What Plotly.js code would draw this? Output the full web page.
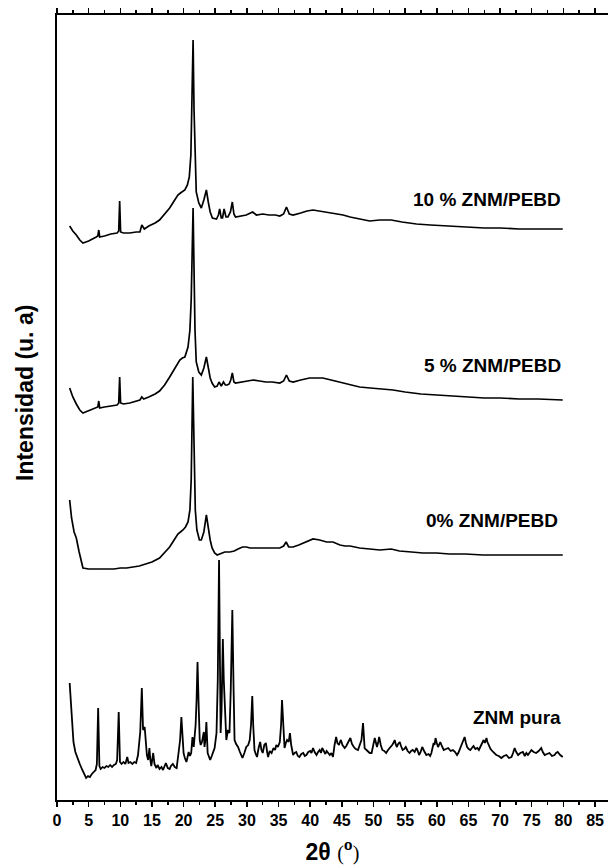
<!DOCTYPE html>
<html>
<head>
<meta charset="utf-8">
<script src="https://cdn.plot.ly/plotly-3.0.1.min.js"></script>
<style>html,body{margin:0;padding:0;background:#fff;}#chart{width:608px;height:866px;}</style>
</head>
<body>
<div id="chart"></div>
<script>
// [2θ (degrees), intensity (arbitrary units, stacked)]
const pura = [[2.0,117],[2.2,95],[2.4,72],[2.6,58],[2.9,48],[3.3,40],[3.6,36],[4.0,30],[4.3,25],[4.6,22],[4.9,24],[5.2,23],[5.5,26],[5.8,28],[6.1,30],[6.3,36],[6.5,92],[6.7,34],[6.9,31],[7.2,33],[7.5,32],[7.8,34],[8.1,33],[8.4,35],[8.7,33],[9.0,35],[9.3,36],[9.5,40],[9.75,88],[9.95,38],[10.2,36],[10.5,38],[10.8,36],[11.1,43],[11.3,37],[11.6,38],[11.9,36],[12.2,38],[12.5,37],[12.8,45],[12.95,55],[13.15,68],[13.4,112],[13.6,70],[13.85,73],[14.05,50],[14.2,45],[14.4,40],[14.6,52],[14.75,40],[14.9,34],[15.2,47],[15.4,36],[15.7,32],[15.9,35],[16.2,31],[16.5,33],[16.75,30],[17.0,33],[17.2,37],[17.5,32],[17.8,31],[18.0,34],[18.3,36],[18.6,33],[18.9,32],[19.2,47],[19.45,60],[19.65,83],[19.85,60],[20.0,47],[20.2,42],[20.45,38],[20.8,48],[21.0,44],[21.2,47],[21.4,63],[21.6,53],[21.9,75],[22.05,100],[22.2,138],[22.4,90],[22.55,60],[22.7,55],[22.9,58],[23.2,68],[23.3,53],[23.45,60],[23.6,78],[23.8,47],[24.0,43],[24.2,40],[24.45,44],[24.65,47],[24.9,52],[25.2,67],[25.4,120],[25.6,240],[25.75,120],[25.85,67],[26.0,90],[26.2,161],[26.35,120],[26.5,100],[26.75,60],[27.0,70],[27.25,67],[27.45,110],[27.7,190],[27.9,110],[28.05,60],[28.3,56],[28.6,53],[28.9,48],[29.1,45],[29.3,42],[29.6,47],[29.9,53],[30.2,55],[30.45,60],[30.65,75],[30.85,104],[31.0,75],[31.2,50],[31.4,46],[31.6,43],[31.85,52],[32.1,58],[32.3,50],[32.5,47],[32.75,55],[33.0,57],[33.2,48],[33.35,43],[33.6,49],[33.9,47],[34.2,52],[34.45,50],[34.65,55],[34.9,53],[35.2,58],[35.4,75],[35.55,100],[35.75,70],[35.95,52],[36.15,57],[36.35,60],[36.6,58],[36.8,67],[37.0,55],[37.3,45],[37.55,47],[37.8,48],[38.05,44],[38.3,43],[38.6,46],[38.9,47],[39.15,44],[39.4,45],[39.7,48],[40.0,49],[40.2,47],[40.45,52],[40.7,48],[41.0,45],[41.25,48],[41.5,50],[41.7,47],[41.9,52],[42.15,49],[42.4,46],[42.6,49],[42.8,47],[43.1,45],[43.35,47],[43.6,43],[43.85,55],[44.1,63],[44.3,57],[44.55,55],[44.7,58],[44.85,60],[45.1,55],[45.45,52],[45.7,54],[45.9,56],[46.1,59],[46.35,62],[46.6,56],[46.9,53],[47.2,51],[47.55,50],[47.75,53],[47.9,57],[48.1,60],[48.35,77],[48.5,60],[48.6,52],[48.9,50],[49.15,48],[49.4,47],[49.7,47],[49.95,55],[50.2,62],[50.4,57],[50.55,53],[50.75,58],[50.9,63],[51.15,55],[51.4,50],[51.7,49],[52.0,47],[52.3,50],[52.6,52],[52.95,55],[53.15,57],[53.35,60],[53.55,55],[53.7,53],[53.9,56],[54.15,58],[54.35,54],[54.6,50],[54.85,51],[55.1,53],[55.4,49],[55.7,47],[55.95,49],[56.2,50],[56.5,48],[56.8,52],[57.0,49],[57.2,45],[57.45,48],[57.7,53],[58.0,49],[58.35,45],[58.7,46],[58.95,44],[59.15,47],[59.35,52],[59.5,57],[59.65,55],[59.8,62],[60.0,57],[60.2,53],[60.35,55],[60.55,58],[60.8,54],[61.1,50],[61.45,51],[61.8,52],[62.2,49],[62.55,50],[62.9,48],[63.2,45],[63.4,47],[63.6,50],[63.9,55],[64.15,60],[64.4,63],[64.6,57],[64.8,53],[65.05,51],[65.3,50],[65.55,52],[65.8,54],[66.1,51],[66.4,52],[66.65,50],[66.9,53],[67.15,56],[67.4,60],[67.6,57],[67.85,62],[68.0,58],[68.2,55],[68.5,51],[68.9,48],[69.15,46],[69.4,45],[69.8,44],[70.2,42],[70.6,44],[71.0,45],[71.4,42],[71.8,43],[72.05,47],[72.3,52],[72.55,48],[72.85,45],[73.2,47],[73.6,48],[73.9,44],[74.15,47],[74.4,45],[74.7,48],[74.95,50],[75.3,48],[75.7,47],[76.1,49],[76.5,52],[76.75,48],[77.05,45],[77.4,46],[77.8,47],[78.2,44],[78.6,45],[78.85,47],[79.1,48],[79.5,45],[79.9,43]];

const pebd0 = [[2.0,300],[2.3,282],[2.7,268],[3.05,262],[3.5,248],[4.1,232],[5.0,231],[6.0,231],[7.0,231],[8.0,231],[9.0,231],[10.0,232],[11.0,232],[12.0,233],[13.0,234],[14.0,236],[15.0,238],[16.2,242],[17.0,247],[17.8,253],[18.5,260],[19.1,266],[19.5,268],[19.9,270],[20.3,273],[20.7,278],[21.0,290],[21.2,320],[21.45,423],[21.65,340],[21.85,290],[22.1,270],[22.5,260],[22.8,260],[23.2,268],[23.6,285],[23.9,270],[24.2,260],[24.5,252],[24.9,247],[25.3,245],[25.7,246],[26.5,248],[27.3,248],[28.0,249],[28.6,251],[29.3,253],[29.9,253],[30.5,252],[31.2,252],[32.0,252],[33.0,252],[34.0,252],[35.2,252],[35.8,254],[36.2,258],[36.6,253],[37.3,253],[38.2,255],[38.9,257],[39.9,260],[40.45,261],[41.5,260],[42.6,258],[43.6,258],[44.7,255],[45.5,254],[46.3,254],[47.8,252],[49.4,251],[51.0,250],[52.8,251],[54.1,249],[56.0,248],[57.8,247],[60.0,247],[62.0,246],[64.5,246],[67.3,245],[70.0,245],[72.6,245],[75.0,245],[77.5,245],[79.9,245]];

const pebd5 = [[2.0,412],[2.5,403],[3.05,396],[3.6,390],[4.1,387],[5.0,389],[6.2,392],[6.45,393],[6.6,399],[6.75,392],[7.5,393],[8.5,394],[9.5,395],[9.75,397],[9.9,423],[10.05,397],[10.5,396],[11.5,397],[12.5,399],[13.1,400],[13.4,403],[13.7,401],[14.5,403],[15.5,406],[16.2,409],[17.0,415],[17.8,423],[18.6,432],[19.4,440],[19.8,442],[20.2,443],[20.7,453],[21.0,470],[21.2,500],[21.35,540],[21.5,592],[21.65,530],[21.8,470],[22.0,438],[22.4,428],[22.8,425],[23.2,432],[23.6,443],[23.9,432],[24.2,422],[24.5,417],[24.9,413],[25.3,414],[25.6,418],[25.95,414],[26.3,418],[26.6,415],[26.9,415],[27.2,416],[27.45,420],[27.7,427],[27.95,418],[28.2,417],[29.0,418],[29.9,419],[31.0,420],[32.0,419],[33.0,418],[34.0,418],[35.2,417],[35.8,419],[36.25,425],[36.7,419],[37.3,418],[38.5,420],[39.9,422],[41.0,422],[42.0,422],[43.3,420],[44.7,418],[46.3,415],[47.8,413],[49.5,412],[51.5,411],[53.1,410],[55.0,408],[57.5,406],[60.0,405],[62.0,404],[65.0,403],[67.5,402],[70.0,402],[73.0,401],[76.0,401],[79.9,400]];

const pebd10 = [[2.0,574],[2.5,569],[3.05,565],[3.6,560],[4.1,557],[5.0,559],[6.2,563],[6.45,564],[6.6,570],[6.75,563],[7.5,564],[8.5,566],[9.5,567],[9.75,569],[9.9,599],[10.05,568],[10.5,567],[11.5,567],[12.5,568],[13.1,568],[13.4,575],[13.8,571],[14.5,574],[15.5,577],[16.2,580],[17.0,586],[17.8,592],[18.5,599],[19.1,605],[19.5,607],[19.8,608],[20.2,610],[20.6,615],[20.9,623],[21.15,645],[21.35,700],[21.5,760],[21.65,690],[21.8,640],[22.0,608],[22.4,597],[22.8,592],[23.2,600],[23.6,610],[23.9,598],[24.2,588],[24.55,582],[25.2,581],[25.5,585],[25.7,591],[25.95,582],[26.15,582],[26.4,591],[26.7,583],[27.0,583],[27.4,588],[27.7,598],[27.95,586],[28.2,583],[29.0,584],[29.9,585],[30.9,588],[31.5,585],[32.5,586],[33.5,585],[34.5,585],[35.2,584],[35.8,586],[36.25,593],[36.7,586],[37.3,585],[38.5,587],[39.5,589],[40.45,590],[41.5,589],[42.6,588],[44.0,586],[45.2,585],[46.3,583],[47.8,581],[49.4,579],[51.0,580],[52.8,580],[54.5,578],[56.8,576],[59.0,575],[62.0,574],[65.0,573],[67.5,572],[70.0,572],[73.0,571],[76.0,571],[79.9,571]];

const labels = ['10 % ZNM/PEBD', '5 % ZNM/PEBD', '0% ZNM/PEBD', 'ZNM pura'];
const xTickVals = [0,5,10,15,20,25,30,35,40,45,50,55,60,65,70,75,80,85];

const series = [pebd10, pebd5, pebd0, pura];
const widths = [1.7, 1.7, 1.7, 1.8];
const traces = series.map((s, i) => ({
  x: s.map(p => p[0]), y: s.map(p => p[1]), type: 'scatter', mode: 'lines', name: labels[i],
  line: {color: '#000', width: widths[i]}, hoverinfo: 'skip'
}));

const labelY = [601, 435, 280, 83];
const labelX = [80, 80, 79.5, 80];
const annotations = labels.map((t, i) => ({
  x: labelX[i], y: labelY[i], xref: 'x', yref: 'y', text: '<b>' + t + '</b>',
  showarrow: false, xanchor: 'right', yanchor: 'middle',
  font: {family: 'Liberation Sans, Arial, sans-serif', size: 19, color: '#000'}
}));
annotations.push({
  xref: 'paper', yref: 'paper', x: -32 / 551, y: (800 - 393) / 785,
  text: '<b>Intensidad (u. a)</b>', textangle: -90, showarrow: false,
  xanchor: 'center', yanchor: 'middle',
  font: {family: 'Liberation Sans, Arial, sans-serif', size: 23, color: '#000'}
});

const layout = {
  width: 608, height: 866,
  margin: {l: 57, r: 0, t: 15, b: 66},
  paper_bgcolor: '#fff', plot_bgcolor: '#fff',
  showlegend: false,
  font: {family: 'Liberation Sans, Arial, sans-serif', color: '#000'},
  xaxis: {
    range: [0, 87.05], tickmode: 'array', tickvals: xTickVals,
    ticks: 'outside', ticklen: 5, tickwidth: 1.5, tickcolor: '#000',
    minor: {dtick: 2.5, tick0: 0, ticks: 'outside', ticklen: 3, tickwidth: 1.5, tickcolor: '#000'},
    showline: true, linewidth: 2, linecolor: '#000', mirror: 'allticks',
    showgrid: false, zeroline: false,
    tickfont: {family: 'Liberation Sans, Arial, sans-serif', size: 16, weight: 'bold', color: '#000'},
    title: {text: '<b>2θ</b> <span style="font-family:Liberation Serif;font-size:20px">(<span style="font-size:27px"><b>º</b></span>)</span>',
            font: {family: 'Liberation Sans, Arial, sans-serif', size: 23, color: '#000'}, standoff: 18}
  },
  yaxis: {
    range: [0, 785], showline: true, linewidth: 2, linecolor: '#000',
    ticks: '', showticklabels: false, showgrid: false, zeroline: false
  },
  annotations: annotations
};

Plotly.newPlot('chart', traces, layout, {staticPlot: true, displayModeBar: false});
</script>
</body>
</html>
